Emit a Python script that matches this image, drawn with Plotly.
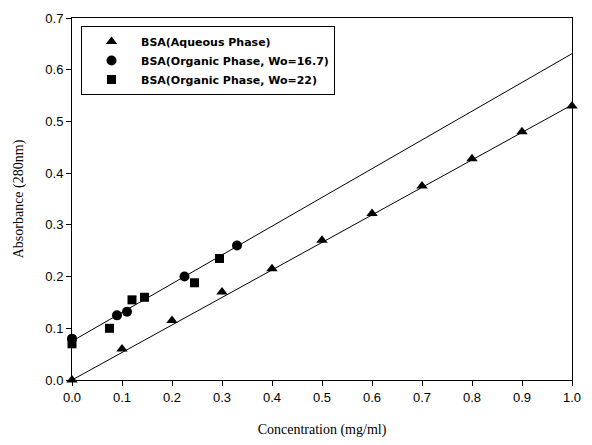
import plotly.graph_objects as go

# Data
aq_x = [0.0, 0.1, 0.2, 0.3, 0.4, 0.5, 0.6, 0.7, 0.8, 0.9, 1.0]
aq_y = [0.0, 0.06, 0.115, 0.17, 0.215, 0.27, 0.322, 0.375, 0.428, 0.48, 0.53]

org167_x = [0.0, 0.09, 0.11, 0.225, 0.33]
org167_y = [0.08, 0.125, 0.132, 0.2, 0.26]

org22_x = [0.0, 0.075, 0.12, 0.145, 0.245, 0.295]
org22_y = [0.07, 0.1, 0.155, 0.16, 0.188, 0.235]

fit_x = [0.0, 1.0]
fit_aq_y = [0.0, 0.532]
fit_org_y = [0.075, 0.631]

x_ticks = [0.0, 0.1, 0.2, 0.3, 0.4, 0.5, 0.6, 0.7, 0.8, 0.9, 1.0]
y_ticks = [0.0, 0.1, 0.2, 0.3, 0.4, 0.5, 0.6, 0.7]

fig = go.Figure()
fig.add_trace(go.Scatter(x=fit_x, y=fit_aq_y, mode="lines",
                         line=dict(color="black", width=1), showlegend=False, cliponaxis=False))
fig.add_trace(go.Scatter(x=fit_x, y=fit_org_y, mode="lines",
                         line=dict(color="black", width=1), showlegend=False, cliponaxis=False))
fig.add_trace(go.Scatter(x=aq_x, y=aq_y, mode="markers", name="BSA(Aqueous Phase)",
                         marker=dict(symbol="triangle-up", size=10, color="black"), cliponaxis=False))
fig.add_trace(go.Scatter(x=org167_x, y=org167_y, mode="markers", name="BSA(Organic Phase, Wo=16.7)",
                         marker=dict(symbol="circle", size=10, color="black"), cliponaxis=False))
fig.add_trace(go.Scatter(x=org22_x, y=org22_y, mode="markers", name="BSA(Organic Phase, Wo=22)",
                         marker=dict(symbol="square", size=9, color="black"), cliponaxis=False))

axis_common = dict(showline=True, linecolor="black", linewidth=1, mirror=True,
                   ticks="outside", ticklen=5, tickcolor="black", showgrid=False, zeroline=False,
                   tickfont=dict(family="Liberation Sans, Arial", size=13, color="black"))

fig.update_xaxes(range=[0, 1.0], tickvals=x_ticks, ticktext=[f"{v:.1f}" for v in x_ticks],
                 title=dict(text="Concentration (mg/ml)",
                            font=dict(family="Liberation Serif, Times New Roman", size=14, color="black"),
                            standoff=20),
                 **axis_common)
fig.update_yaxes(range=[0, 0.7], tickvals=y_ticks, ticktext=[f"{v:.1f}" for v in y_ticks],
                 title=dict(text="Absorbance (280nm)",
                            font=dict(family="Liberation Serif, Times New Roman", size=14, color="black"),
                            standoff=18),
                 **axis_common)

fig.update_layout(
    width=592, height=445,
    margin=dict(l=72, r=18, t=11, b=63),
    paper_bgcolor="white", plot_bgcolor="white",
    legend=dict(x=0.018, y=0.978, xanchor="left", yanchor="top",
                bordercolor="black", borderwidth=1, bgcolor="white",
                font=dict(family="DejaVu Sans", size=11, color="black", weight="bold"),
                tracegroupgap=0, itemwidth=49),
)

fig.write_html("out.html")
